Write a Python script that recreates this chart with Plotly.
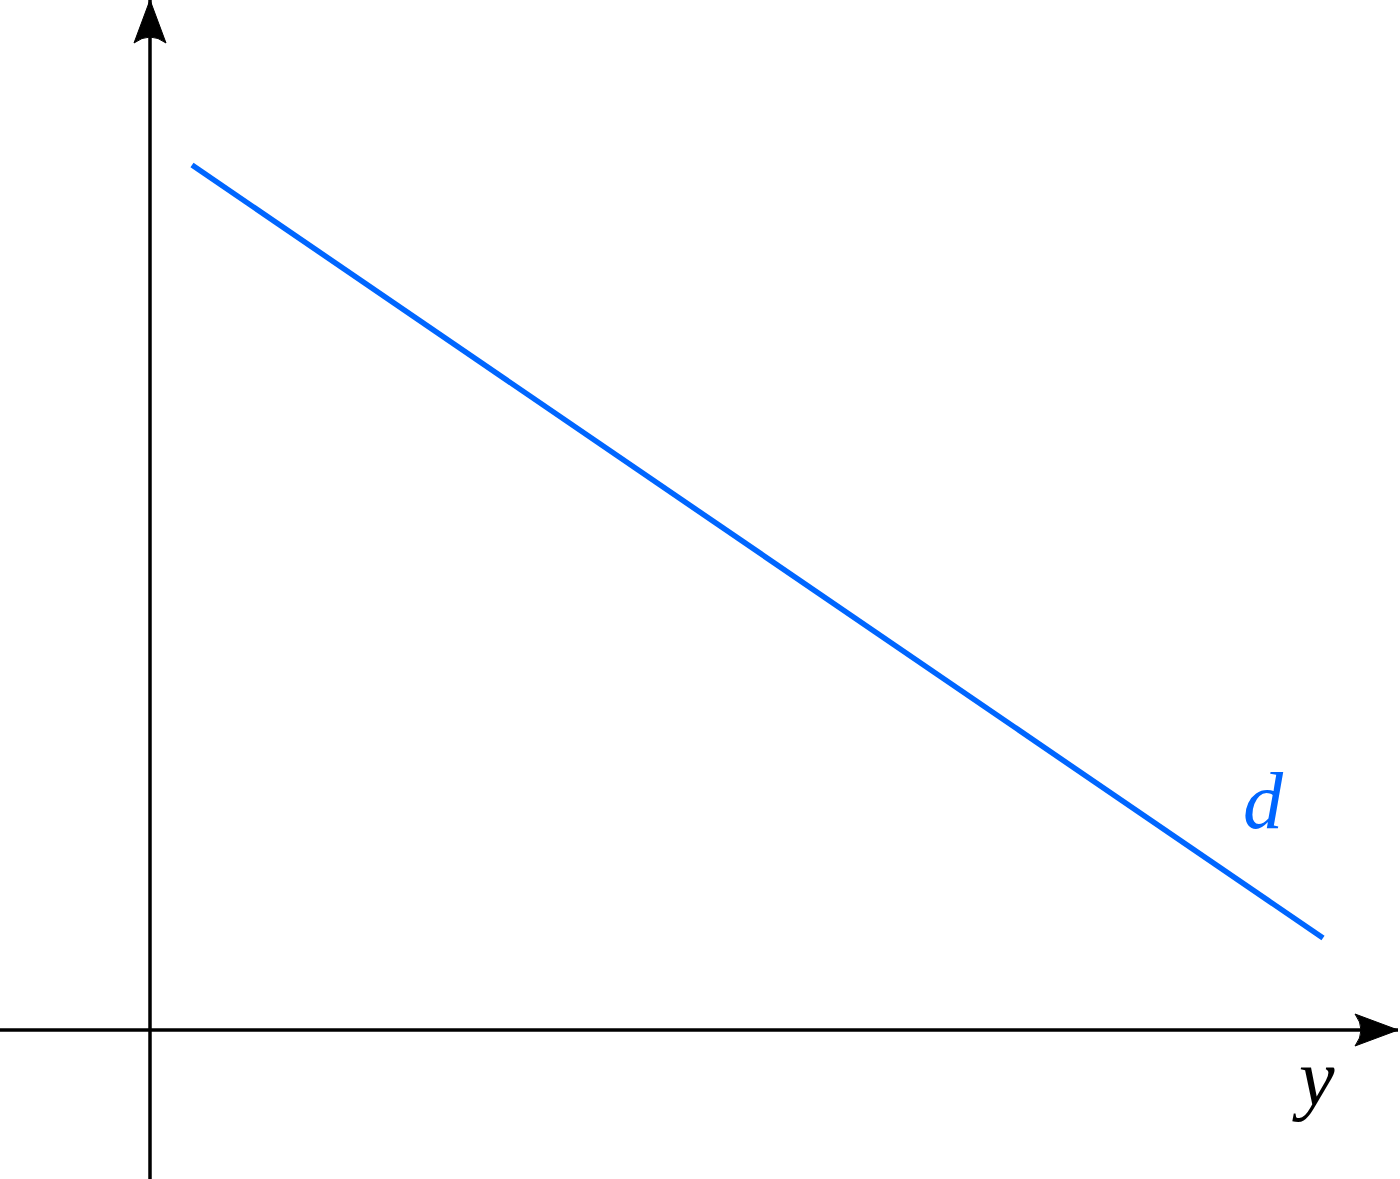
import plotly.graph_objects as go

# ---- data (units: 1 = 100 px in the reference) ----
line_x = [0.42, 11.73]
line_y = [8.65, 0.92]
x_axis_span = [-1.5, 12.48]   # horizontal axis extent (tip on the right)
y_axis_span = [-1.49, 10.30]  # vertical axis extent (tip at the top)
label_d = "d"
label_y = "y"

BLUE = "#0066FF"
BLACK = "#000000"
FONT = "Liberation Serif"

fig = go.Figure()

# axes (shafts)
fig.add_trace(go.Scatter(x=x_axis_span, y=[0, 0], mode="lines",
                         line=dict(color=BLACK, width=3.5), hoverinfo="skip", showlegend=False))
fig.add_trace(go.Scatter(x=[0, 0], y=y_axis_span, mode="lines",
                         line=dict(color=BLACK, width=3.5), hoverinfo="skip", showlegend=False))

# the blue line d
fig.add_trace(go.Scatter(x=line_x, y=line_y, mode="lines",
                         line=dict(color=BLUE, width=5.5), hoverinfo="skip", showlegend=False))

# arrowheads (concave back), derived from axis tips
L, W, C = 0.43, 0.16, 0.31  # length, half width, control depth (data units)

def head_right(tx, ty):
    return (f"M {tx},{ty} L {tx-L},{ty+W} Q {tx-C},{ty} {tx-L},{ty-W} Z")

def head_up(tx, ty):
    return (f"M {tx},{ty} L {tx-W},{ty-L} Q {tx},{ty-C} {tx+W},{ty-L} Z")

fig.add_shape(type="path", path=head_right(x_axis_span[1], 0), xref="x", yref="y",
              fillcolor=BLACK, line=dict(color=BLACK, width=1))
fig.add_shape(type="path", path=head_up(0, y_axis_span[1]), xref="x", yref="y",
              fillcolor=BLACK, line=dict(color=BLACK, width=1))

# labels
fig.add_annotation(x=11.13, y=2.29, text=f"<i>{label_d}</i>", showarrow=False,
                   font=dict(family=FONT, size=80, color=BLUE),
                   xanchor="center", yanchor="middle")
fig.add_annotation(x=11.63, y=-0.48, text=f"<i>{label_y}</i>", showarrow=False,
                   font=dict(family=FONT, size=80, color=BLACK),
                   xanchor="center", yanchor="middle")

fig.update_layout(
    width=1400, height=1179,
    margin=dict(l=0, r=0, t=0, b=0),
    paper_bgcolor="white", plot_bgcolor="white",
    xaxis=dict(range=[-1.5, 12.5], visible=False, fixedrange=True),
    yaxis=dict(range=[-1.49, 10.30], visible=False, fixedrange=True),
    showlegend=False,
)

fig.write_html("out.html", config={"displayModeBar": False},
               post_script="document.body.style.margin='0';document.body.style.overflow='hidden';")
